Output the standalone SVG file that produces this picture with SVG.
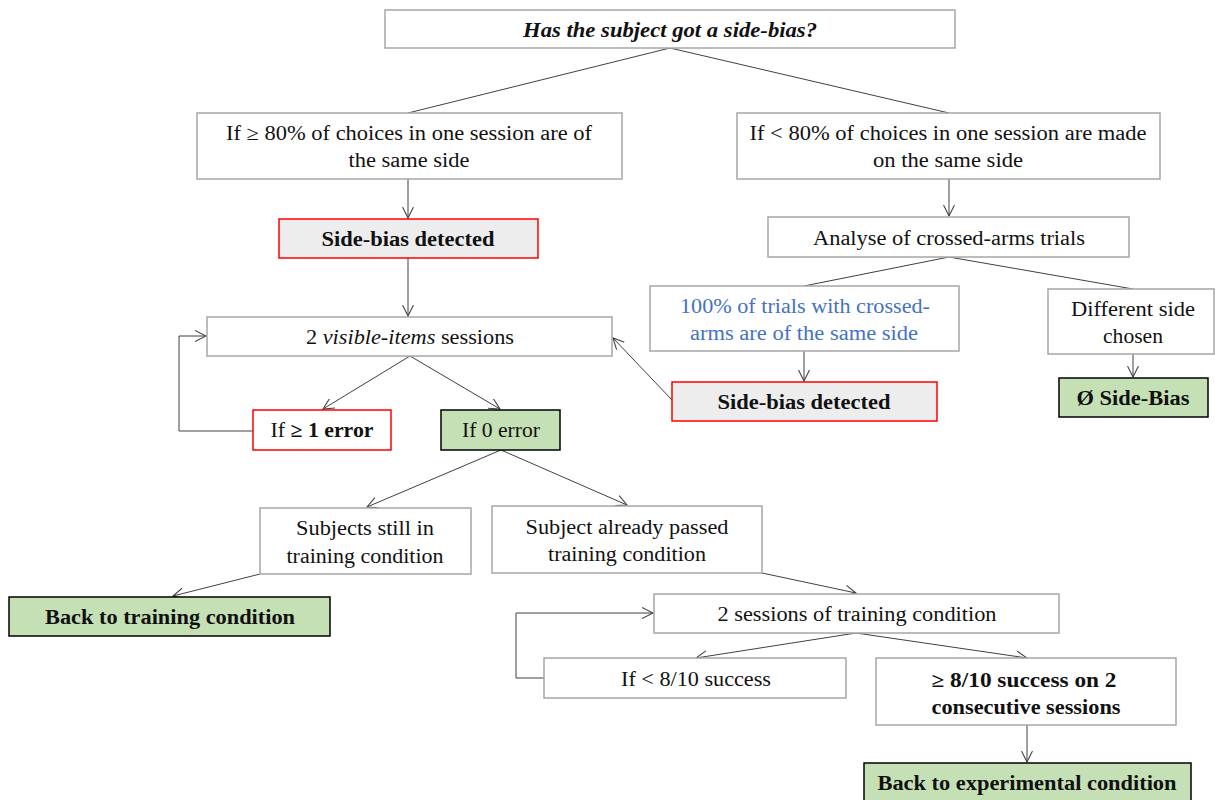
<svg xmlns="http://www.w3.org/2000/svg" width="1215" height="800" viewBox="0 0 1215 800">
<style>
text{font-family:"Liberation Serif","Times New Roman",serif;font-size:20px;fill:#111;text-anchor:middle}
.b{font-weight:bold}
.i{font-style:italic}
.plain{fill:#fff;stroke:#a6a6a6;stroke-width:1.5}
.red{fill:#fff;stroke:#ff0000;stroke-width:1.5}
.redg{fill:#ededed;stroke:#ff0000;stroke-width:1.5}
.green{fill:#c5e0b4;stroke:#000;stroke-width:1.5}
.blue{fill:#4472c4}
.c line,.c polyline{stroke:#404040;stroke-width:1;fill:none}
.a{marker-end:url(#arr)}
</style>
<defs>
<marker id="arr" markerUnits="userSpaceOnUse" markerWidth="12" markerHeight="12" refX="10" refY="5" orient="auto" viewBox="0 0 11 10">
<path d="M0,0 L10,5 L0,10" fill="none" stroke="#404040" stroke-width="1"/>
</marker>
</defs>
<rect width="1215" height="800" fill="#fff"/>
<g class="c" id="connectors">
<line x1="670" y1="48" x2="408" y2="113"/>
<line x1="670" y1="48" x2="949" y2="113"/>
<line class="a" x1="408" y1="179" x2="408" y2="218"/>
<line class="a" x1="949" y1="179" x2="949" y2="216"/>
<line class="a" x1="408" y1="258" x2="408" y2="316"/>
<line x1="949" y1="257" x2="804" y2="286"/>
<line x1="949" y1="257" x2="1133" y2="289"/>
<line class="a" x1="804" y1="351" x2="804" y2="381"/>
<line class="a" x1="1133" y1="354" x2="1133" y2="377"/>
<line class="a" x1="672" y1="400" x2="613" y2="338"/>
<line class="a" x1="410" y1="356" x2="323" y2="409"/>
<line class="a" x1="410" y1="356" x2="500" y2="409"/>
<polyline class="a" points="253,431 179,431 179,336 206,336"/>
<line class="a" x1="501" y1="450" x2="367" y2="507"/>
<line class="a" x1="501" y1="450" x2="627" y2="505"/>
<line class="a" x1="260" y1="574" x2="173" y2="596"/>
<line class="a" x1="762" y1="573" x2="856" y2="593"/>
<line class="a" x1="856" y1="633" x2="696" y2="658"/>
<line class="a" x1="856" y1="633" x2="1027" y2="658"/>
<polyline class="a" points="544,678 516,678 516,613 653,613"/>
<line class="a" x1="1027" y1="725" x2="1027" y2="762"/>
</g>
<g id="n-top"><rect class="plain" x="385" y="10" width="570" height="38"/><text class="b i" x="670" y="37" textLength="294" lengthAdjust="spacingAndGlyphs">Has the subject got a side-bias?</text></g>
<g id="n-high"><rect class="plain" x="197" y="113" width="425" height="66"/><text x="409" y="140" textLength="366" lengthAdjust="spacingAndGlyphs">If ≥ 80% of choices in one session are of</text><text x="409" y="167" textLength="121" lengthAdjust="spacingAndGlyphs">the same side</text></g>
<g id="n-low"><rect class="plain" x="737" y="113" width="423" height="66"/><text x="948" y="140" textLength="397" lengthAdjust="spacingAndGlyphs">If &lt; 80% of choices in one session are made</text><text x="948" y="167" textLength="150" lengthAdjust="spacingAndGlyphs">on the same side</text></g>
<g id="n-bias1"><rect class="redg" x="279" y="219" width="259" height="39"/><text class="b" x="408" y="246" textLength="173" lengthAdjust="spacingAndGlyphs">Side-bias detected</text></g>
<g id="n-analyse"><rect class="plain" x="768" y="217" width="361" height="40"/><text x="949" y="245" textLength="272" lengthAdjust="spacingAndGlyphs">Analyse of crossed-arms trials</text></g>
<g id="n-visible"><rect class="plain" x="207" y="317" width="405" height="39"/><text x="410" y="344" textLength="208" lengthAdjust="spacingAndGlyphs">2 <tspan class="i">visible-items</tspan> sessions</text></g>
<g id="n-cross100"><rect class="plain" x="650" y="286" width="309" height="65"/><text class="blue" x="805" y="313" textLength="250" lengthAdjust="spacingAndGlyphs">100% of trials with crossed-</text><text class="blue" x="804" y="340" textLength="228" lengthAdjust="spacingAndGlyphs">arms are of the same side</text></g>
<g id="n-diff"><rect class="plain" x="1048" y="289" width="166" height="65"/><text x="1133" y="316" textLength="124" lengthAdjust="spacingAndGlyphs">Different side</text><text x="1133" y="343" textLength="60" lengthAdjust="spacingAndGlyphs">chosen</text></g>
<g id="n-bias2"><rect class="redg" x="672" y="382" width="265" height="39"/><text class="b" x="804" y="409" textLength="173" lengthAdjust="spacingAndGlyphs">Side-bias detected</text></g>
<g id="n-nobias"><rect class="green" x="1059" y="378" width="149" height="39"/><text class="b" x="1133" y="405" textLength="113" lengthAdjust="spacingAndGlyphs">Ø Side-Bias</text></g>
<g id="n-err1"><rect class="red" x="253" y="410" width="138" height="40"/><text x="322" y="437" textLength="103" lengthAdjust="spacingAndGlyphs">If <tspan class="b">≥ 1 error</tspan></text></g>
<g id="n-err0"><rect class="green" x="441" y="410" width="119" height="40"/><text x="501" y="437" textLength="78" lengthAdjust="spacingAndGlyphs">If 0 error</text></g>
<g id="n-still"><rect class="plain" x="260" y="508" width="211" height="66"/><text x="365" y="535" textLength="138" lengthAdjust="spacingAndGlyphs">Subjects still in</text><text x="365" y="563" textLength="157" lengthAdjust="spacingAndGlyphs">training condition</text></g>
<g id="n-passed"><rect class="plain" x="492" y="506" width="270" height="67"/><text x="627" y="534" textLength="203" lengthAdjust="spacingAndGlyphs">Subject already passed</text><text x="627" y="561" textLength="158" lengthAdjust="spacingAndGlyphs">training condition</text></g>
<g id="n-backtrain"><rect class="green" x="9" y="597" width="321" height="39"/><text class="b" x="170" y="624" textLength="250" lengthAdjust="spacingAndGlyphs">Back to training condition</text></g>
<g id="n-sessions"><rect class="plain" x="654" y="594" width="405" height="39"/><text x="857" y="621" textLength="279" lengthAdjust="spacingAndGlyphs">2 sessions of training condition</text></g>
<g id="n-fail"><rect class="plain" x="544" y="658" width="302" height="40"/><text x="696" y="686" textLength="150" lengthAdjust="spacingAndGlyphs">If &lt; 8/10 success</text></g>
<g id="n-success"><rect class="plain" x="876" y="658" width="300" height="67"/><text class="b" x="1024" y="687" textLength="185" lengthAdjust="spacingAndGlyphs">≥ 8/10 success on 2</text><text class="b" x="1026" y="714" textLength="189" lengthAdjust="spacingAndGlyphs">consecutive sessions</text></g>
<g id="n-backexp"><rect class="green" x="864" y="763" width="327" height="45"/><text class="b" x="1027" y="790" textLength="299" lengthAdjust="spacingAndGlyphs">Back to experimental condition</text></g>
</svg>
